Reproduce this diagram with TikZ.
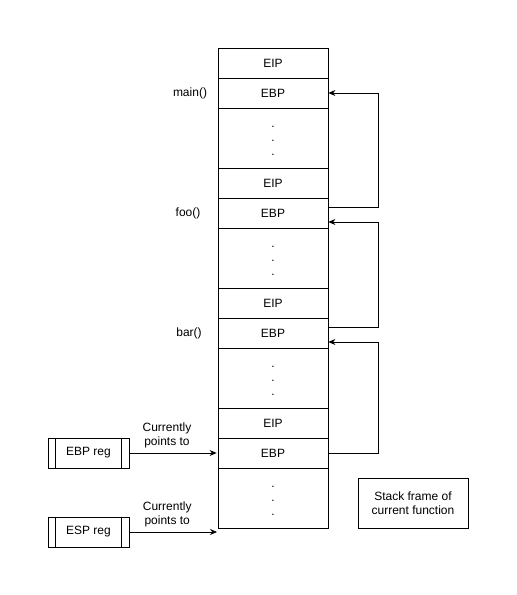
\documentclass[tikz,border=0pt]{standalone}
\usepackage{fontspec}
\setmainfont{Liberation Sans}
\usetikzlibrary{arrows.meta,calc}
\begin{document}
\begin{tikzpicture}[x=1pt,y=1pt,
  every node/.style={font=\fontsize{12}{14}\selectfont},
  line/.style={line width=0.8pt},
  cell/.style={draw,line width=0.8pt,minimum width=110pt,minimum height=30pt,inner sep=0pt},
  dotcell/.style={cell,minimum height=60pt},
  dots/.style={align=center,inner sep=0pt},
  reg/.style={draw,line width=0.8pt,minimum width=81pt,minimum height=30pt,inner sep=0pt},
  ptr/.style={line,-{Stealth[length=7pt,width=6pt]}},
  fname/.style={anchor=center},
  ptrlabel/.style={above,align=center,yshift=1pt,xshift=-6pt}]
\useasboundingbox (0,0) rectangle (517,595);

% stack column
\node[cell] (eipA) at (273,532) {EIP};
\node[cell] (ebpA) at (273,502) {EBP};
\node[dotcell] (dotA) at (273,457) {};
\node[cell] (eipB) at (273,412) {EIP};
\node[cell] (ebpB) at (273,382) {EBP};
\node[dotcell] (dotB) at (273,337) {};
\node[cell] (eipC) at (273,292) {EIP};
\node[cell] (ebpC) at (273,262) {EBP};
\node[dotcell] (dotC) at (273,217) {};
\node[cell] (eipD) at (273,172) {EIP};
\node[cell] (ebpD) at (273,142) {EBP};
\node[dotcell] (dotD) at (273,97) {};

% vertical ellipsis inside each gap
\foreach \g in {A,B,C,D}
  \node[dots] (ell\g) at ([yshift=-3pt]dot\g.center) {.\\.\\.};

% function labels
\node[fname] (lmain) at (190,502) {main()};
\node[fname] (lfoo) at (188,382) {foo()};
\node[fname] (lbar) at (189,262) {bar()};

% saved frame pointer chain
\coordinate (rA) at (378,0);
\coordinate (inB) at ([yshift=-9pt]ebpB.east);
\coordinate (inC) at ([yshift=-9pt]ebpC.east);
\coordinate (outB) at ([yshift=6pt]ebpB.east);
\coordinate (outC) at ([yshift=6pt]ebpC.east);
\draw[ptr] (outB) -| (rA |- ebpA.east) -- (ebpA.east);
\draw[ptr] (outC) -| (rA |- inB) -- (inB);
\draw[ptr] (ebpD.east) -| (rA |- inC) -- (inC);

% registers
\node[reg] (ebpreg) at (88.5,142) {EBP reg};
\draw[line] ([xshift=8pt]ebpreg.north west) -- ([xshift=8pt]ebpreg.south west)
            ([xshift=-8pt]ebpreg.north east) -- ([xshift=-8pt]ebpreg.south east);
\node[reg] (espreg) at (88.5,63) {ESP reg};
\draw[line] ([xshift=8pt]espreg.north west) -- ([xshift=8pt]espreg.south west)
            ([xshift=-8pt]espreg.north east) -- ([xshift=-8pt]espreg.south east);

\coordinate (espTarget) at (217,63);
\draw[ptr] (ebpreg.east) -- node[ptrlabel] {Currently\\points to} ([xshift=-1pt]ebpD.west);
\draw[ptr] (espreg.east) -- node[ptrlabel] {Currently\\points to} (espTarget);

% legend
\node[draw,line width=0.8pt,minimum width=110pt,minimum height=50pt,align=center] (legend) at (413,92) {Stack frame of\\current function};
\end{tikzpicture}
\end{document}
